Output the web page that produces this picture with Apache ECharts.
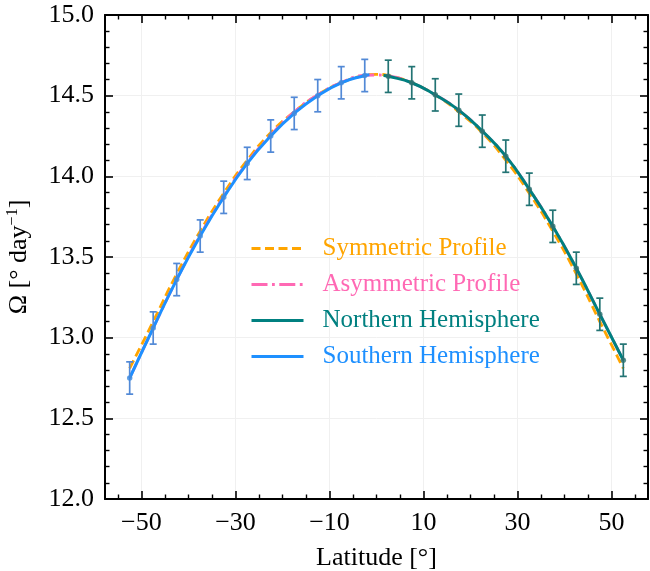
<!DOCTYPE html>
<html>
<head>
<meta charset="utf-8">
<title>Differential rotation profile</title>
<script src="https://cdn.jsdelivr.net/npm/echarts@6/dist/echarts.min.js"></script>
<style>
  html, body { margin: 0; padding: 0; background: #ffffff; }
  #chart { width: 650px; height: 571px; }
</style>
</head>
<body>
<div id="chart"></div>
<script>
// Measured rotation rate per latitude bin (degrees / day) with 1-sigma errors
const latSouth   = [-52.5, -47.5, -42.5, -37.5, -32.5, -27.5, -22.5, -17.5, -12.5, -7.5, -2.5];
const omegaSouth = [12.75, 13.06, 13.36, 13.63, 13.87, 14.08, 14.25, 14.39, 14.50, 14.58, 14.625];
const errSouth   = [0.10, 0.10, 0.10, 0.10, 0.10, 0.10, 0.10, 0.10, 0.10, 0.10, 0.10];

const latNorth   = [2.5, 7.5, 12.5, 17.5, 22.5, 27.5, 32.5, 37.5, 42.5, 47.5, 52.5];
const omegaNorth = [14.62, 14.58, 14.505, 14.41, 14.28, 14.125, 13.92, 13.69, 13.43, 13.145, 12.86];
const errNorth   = [0.10, 0.10, 0.10, 0.10, 0.10, 0.10, 0.10, 0.10, 0.10, 0.10, 0.10];

// Hemisphere fits
const fitLatSouth = [-52.5, -47.5, -42.5, -37.5, -32.5, -27.5, -22.5, -17.5, -12.5, -7.5, -2.5, -1.5];
const fitSouth    = [12.75, 13.06, 13.36, 13.63, 13.87, 14.08, 14.25, 14.39, 14.50, 14.58, 14.625, 14.63];
const fitLatNorth = [1.5, 2.5, 7.5, 12.5, 17.5, 22.5, 27.5, 32.5, 37.5, 42.5, 47.5, 52.5];
const fitNorth    = [14.625, 14.62, 14.58, 14.505, 14.41, 14.28, 14.125, 13.92, 13.69, 13.43, 13.145, 12.86];

// Global profiles
const profLat  = [-52.5, -47.5, -42.5, -37.5, -32.5, -27.5, -22.5, -17.5, -12.5, -7.5, -2.5, 0,
                  2.5, 7.5, 12.5, 17.5, 22.5, 27.5, 32.5, 37.5, 42.5, 47.5, 52.5];
const symOmega = [12.81, 13.10, 13.395, 13.66, 13.895, 14.10, 14.27, 14.40, 14.505, 14.58, 14.625, 14.632,
                  14.625, 14.58, 14.505, 14.40, 14.27, 14.10, 13.895, 13.66, 13.395, 13.10, 12.81];
const asymOmega = [12.75, 13.06, 13.36, 13.635, 13.875, 14.085, 14.255, 14.40, 14.505, 14.582, 14.626, 14.628,
                   14.622, 14.58, 14.505, 14.41, 14.28, 14.125, 13.92, 13.69, 13.43, 13.145, 12.86];

// Axis ticks
const xMajorTicks = [-50, -30, -10, 10, 30, 50];
const xMinorTicks = [-55, -45, -40, -35, -25, -20, -15, -5, 0, 5, 15, 20, 25, 35, 40, 45, 55];
const xRange = [-57.75, 57.75];
const yRange = [12.0, 15.0];
const yStep = 0.5;

const pair = (xs, ys) => xs.map((x, i) => [x, ys[i]]);
const triple = (xs, ys, es) => xs.map((x, i) => [x, ys[i], es[i]]);

const FONT = 'Liberation Serif';
const C_SYM = '#FFA500', C_ASYM = '#FF69B4', C_NORTH = '#008080', C_SOUTH = '#1E90FF';

function errorBars(color) {
  return function (params, api) {
    const x = api.value(0), y = api.value(1), e = api.value(2);
    const top = api.coord([x, y + e]);
    const bot = api.coord([x, y - e]);
    const cap = 3.5;
    const style = { stroke: color, lineWidth: 1.7, fill: null };
    return {
      type: 'group',
      children: [
        { type: 'line', shape: { x1: top[0], y1: top[1], x2: bot[0], y2: bot[1] }, style },
        { type: 'line', shape: { x1: top[0] - cap, y1: top[1], x2: top[0] + cap, y2: top[1] }, style },
        { type: 'line', shape: { x1: bot[0] - cap, y1: bot[1], x2: bot[0] + cap, y2: bot[1] }, style }
      ]
    };
  };
}

const axisLine = { show: true, onZero: false, lineStyle: { color: '#000', width: 2 } };
const noLine = { show: false, onZero: false };
const fmtX = v => String(v).replace('-', '\u2212');
const clearIcon = { color: 'rgba(0,0,0,0)', borderWidth: 0 };

const chart = echarts.init(document.getElementById('chart'), null, { renderer: 'canvas' });

chart.setOption({
  animation: false,
  backgroundColor: '#ffffff',
  textStyle: { fontFamily: FONT },
  grid: { left: 105, right: 2, top: 15, bottom: 72, containLabel: false, outerBoundsMode: 'none' },
  xAxis: [
    {
      type: 'value', position: 'bottom', min: xRange[0], max: xRange[1],
      name: 'Latitude [°]', nameLocation: 'middle', nameGap: 46,
      nameTextStyle: { fontFamily: FONT, fontSize: 26, color: '#000' },
      axisLine,
      axisTick: { show: true, inside: true, length: 8, customValues: xMajorTicks, lineStyle: { color: '#000', width: 1.6 } },
      axisLabel: { show: true, customValues: xMajorTicks, formatter: fmtX, fontFamily: FONT, fontSize: 26, color: '#000', margin: 11 },
      splitLine: { show: true, lineStyle: { color: '#f0f0f0', width: 1 } },
      minorTick: { show: false }
    },
    {
      type: 'value', position: 'top', min: xRange[0], max: xRange[1],
      axisLine,
      axisTick: { show: true, inside: true, length: 8, customValues: xMajorTicks, lineStyle: { color: '#000', width: 1.6 } },
      axisLabel: { show: false },
      splitLine: { show: false }
    },
    {
      type: 'value', position: 'bottom', min: xRange[0], max: xRange[1],
      axisLine: noLine,
      axisTick: { show: true, inside: true, length: 4.5, customValues: xMinorTicks, lineStyle: { color: '#000', width: 1.4 } },
      axisLabel: { show: false },
      splitLine: { show: false }
    },
    {
      type: 'value', position: 'top', min: xRange[0], max: xRange[1],
      axisLine: noLine,
      axisTick: { show: true, inside: true, length: 4.5, customValues: xMinorTicks, lineStyle: { color: '#000', width: 1.4 } },
      axisLabel: { show: false },
      splitLine: { show: false }
    }
  ],
  yAxis: [
    {
      type: 'value', position: 'left', min: yRange[0], max: yRange[1], interval: yStep,
      name: '{a|Ω [° day}{s|−1}{a|]}', nameLocation: 'middle', nameGap: 72, nameRotate: 90,
      nameTextStyle: {
        fontFamily: FONT, color: '#000',
        rich: {
          a: { fontFamily: FONT, fontSize: 26, color: '#000' },
          s: { fontFamily: FONT, fontSize: 16, color: '#000', padding: [0, 0, 12, 0] }
        }
      },
      axisLine,
      axisTick: { show: true, inside: true, length: 8, lineStyle: { color: '#000', width: 1.6 } },
      minorTick: { show: true, splitNumber: 5, length: 4.5, lineStyle: { color: '#000', width: 1.4 } },
      axisLabel: { show: true, formatter: v => v.toFixed(1), fontFamily: FONT, fontSize: 26, color: '#000', margin: 11 },
      splitLine: { show: true, lineStyle: { color: '#f0f0f0', width: 1 } }
    },
    {
      type: 'value', position: 'right', min: yRange[0], max: yRange[1], interval: yStep,
      axisLine,
      axisTick: { show: true, inside: true, length: 8, lineStyle: { color: '#000', width: 1.6 } },
      minorTick: { show: true, splitNumber: 5, length: 4.5, lineStyle: { color: '#000', width: 1.4 } },
      axisLabel: { show: false },
      splitLine: { show: false }
    }
  ],
  legend: {
    show: true,
    orient: 'vertical',
    left: 250, top: 236, padding: 0,
    itemWidth: 52, itemHeight: 14, itemGap: 11,
    lineStyle: { width: 3 },
    textStyle: { fontFamily: FONT, fontSize: 25, lineHeight: 25, padding: [0, 0, 0, 14] },
    data: [
      { name: 'Symmetric Profile', textStyle: { color: C_SYM }, itemStyle: clearIcon },
      { name: 'Asymmetric Profile', textStyle: { color: C_ASYM }, itemStyle: clearIcon },
      { name: 'Northern Hemisphere', textStyle: { color: C_NORTH }, itemStyle: clearIcon },
      { name: 'Southern Hemisphere', textStyle: { color: C_SOUTH }, itemStyle: clearIcon }
    ]
  },
  series: [
    {
      name: 'Symmetric Profile', type: 'line', z: 1, smooth: true, symbol: 'none',
      data: pair(profLat, symOmega),
      lineStyle: { color: C_SYM, width: 2.8, type: [9, 4.5] },
      itemStyle: { color: C_SYM }
    },
    {
      name: 'Asymmetric Profile', type: 'line', z: 2, smooth: true, symbol: 'none',
      data: pair(profLat, asymOmega),
      lineStyle: { color: C_ASYM, width: 2.8, type: [16, 4.5, 2.8, 4.5] },
      itemStyle: { color: C_ASYM }
    },
    {
      name: 'Northern Hemisphere', type: 'line', z: 3, smooth: true, symbol: 'none',
      data: pair(fitLatNorth, fitNorth),
      lineStyle: { color: C_NORTH, width: 3 },
      itemStyle: { color: C_NORTH }
    },
    {
      name: 'Southern Hemisphere', type: 'line', z: 4, smooth: true, symbol: 'none',
      data: pair(fitLatSouth, fitSouth),
      lineStyle: { color: C_SOUTH, width: 3 },
      itemStyle: { color: C_SOUTH }
    },
    {
      name: 'North bins', type: 'custom', z: 5,
      renderItem: errorBars('#237474'),
      encode: { x: 0, y: 1 },
      data: triple(latNorth, omegaNorth, errNorth)
    },
    {
      name: 'South bins', type: 'custom', z: 5,
      renderItem: errorBars('#5289d6'),
      encode: { x: 0, y: 1 },
      data: triple(latSouth, omegaSouth, errSouth)
    },
    {
      name: 'North points', type: 'scatter', z: 6, symbol: 'circle', symbolSize: 5.5,
      data: pair(latNorth, omegaNorth),
      itemStyle: { color: '#2d7070' }
    },
    {
      name: 'South points', type: 'scatter', z: 6, symbol: 'circle', symbolSize: 5.5,
      data: pair(latSouth, omegaSouth),
      itemStyle: { color: '#3d8be0' }
    }
  ]
});
</script>
</body>
</html>
